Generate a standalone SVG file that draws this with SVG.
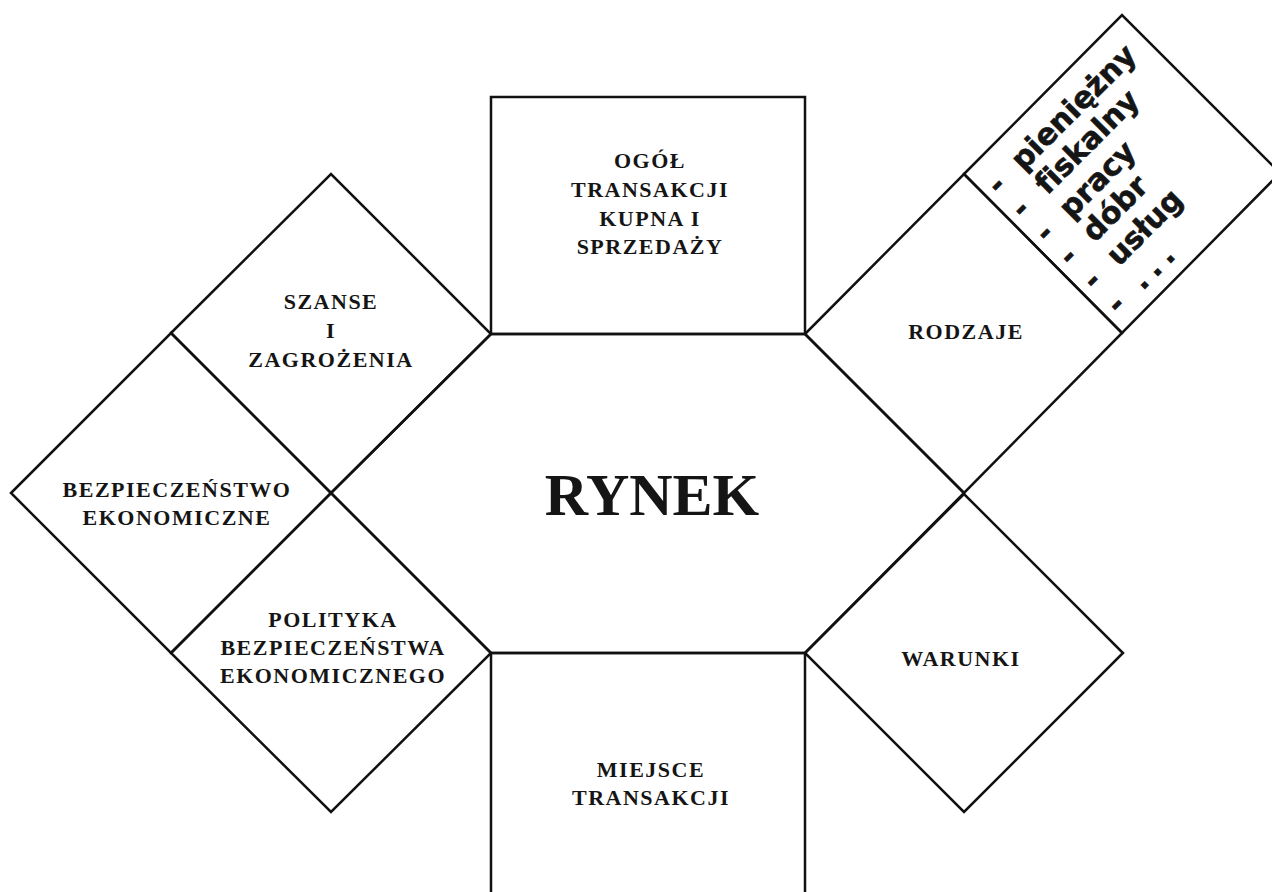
<svg xmlns="http://www.w3.org/2000/svg" width="1272" height="892" viewBox="0 0 1272 892">
<style>
.shape{fill:none;stroke:#111;stroke-width:2.5;stroke-linejoin:miter}
.lbl{font-family:"Liberation Serif","Times New Roman",serif;font-weight:bold;font-size:22px;letter-spacing:1.5px;fill:#151515;text-anchor:middle}
.big{font-family:"Liberation Serif","Times New Roman",serif;font-weight:bold;font-size:60px;fill:#151515;text-anchor:middle}
.lst{font-family:"DejaVu Sans",Verdana,sans-serif;font-weight:bold;font-size:30px;fill:#151515;stroke:#151515;stroke-width:0.6;font-variant-ligatures:none}
</style>
<rect width="1272" height="892" fill="#fff"/>
<g id="connectors"></g>
<g id="rynek">
<polygon class="shape" points="491,334 805,334 964,493 805,653 491,653 331,493"/>
<text class="big" x="652" y="515">RYNEK</text>
</g>
<g id="ogol">
<rect class="shape" x="491" y="97" width="314" height="237"/>
<text class="lbl" x="650" y="168">OGÓŁ</text>
<text class="lbl" x="650" y="197">TRANSAKCJI</text>
<text class="lbl" x="650" y="226">KUPNA I</text>
<text class="lbl" x="650" y="254">SPRZEDAŻY</text>
</g>
<g id="miejsce">
<polyline class="shape" points="491,900 491,653 805,653 805,900"/>
<text class="lbl" x="651" y="777">MIEJSCE</text>
<text class="lbl" x="651" y="805">TRANSAKCJI</text>
</g>
<g id="szanse">
<polygon class="shape" points="171,333 331,174 491,334 331,493"/>
<text class="lbl" x="331" y="309">SZANSE</text>
<text class="lbl" x="331" y="338">I</text>
<text class="lbl" x="331" y="367">ZAGROŻENIA</text>
</g>
<g id="bezpieczenstwo">
<polygon class="shape" points="11,493 171,333 331,493 171,653"/>
<text class="lbl" x="177" y="497">BEZPIECZEŃSTWO</text>
<text class="lbl" x="177" y="525">EKONOMICZNE</text>
</g>
<g id="polityka">
<polygon class="shape" points="171,653 331,493 491,653 331,812"/>
<text class="lbl" x="333" y="627">POLITYKA</text>
<text class="lbl" x="333" y="655">BEZPIECZEŃSTWA</text>
<text class="lbl" x="333" y="683">EKONOMICZNEGO</text>
</g>
<g id="rodzaje">
<polygon class="shape" points="805,334 964,174 1122,333 964,493"/>
<text class="lbl" x="966" y="339">RODZAJE</text>
</g>
<g id="lista">
<polygon class="shape" points="964,174 1122,15 1280,173 1122,333"/>
<g transform="rotate(-45)">
<text class="lst" x="574" y="845" text-anchor="middle">-</text>
<text class="lst" x="602" y="845">pieniężny</text>
<text class="lst" x="574" y="879" text-anchor="middle">-</text>
<text class="lst" x="602" y="879">fiskalny</text>
<text class="lst" x="574" y="913" text-anchor="middle">-</text>
<text class="lst" x="602" y="913">pracy</text>
<text class="lst" x="574" y="946" text-anchor="middle">-</text>
<text class="lst" x="602" y="946">dóbr</text>
<text class="lst" x="574" y="980" text-anchor="middle">-</text>
<text class="lst" x="602" y="980">usług</text>
<text class="lst" x="574" y="1014" text-anchor="middle">-</text>
<text class="lst" x="602" y="1014" letter-spacing="7">...</text>
</g>
</g>
<g id="warunki">
<polygon class="shape" points="805,653 964,494 1123,653 964,812"/>
<text class="lbl" x="961" y="666">WARUNKI</text>
</g>
</svg>
